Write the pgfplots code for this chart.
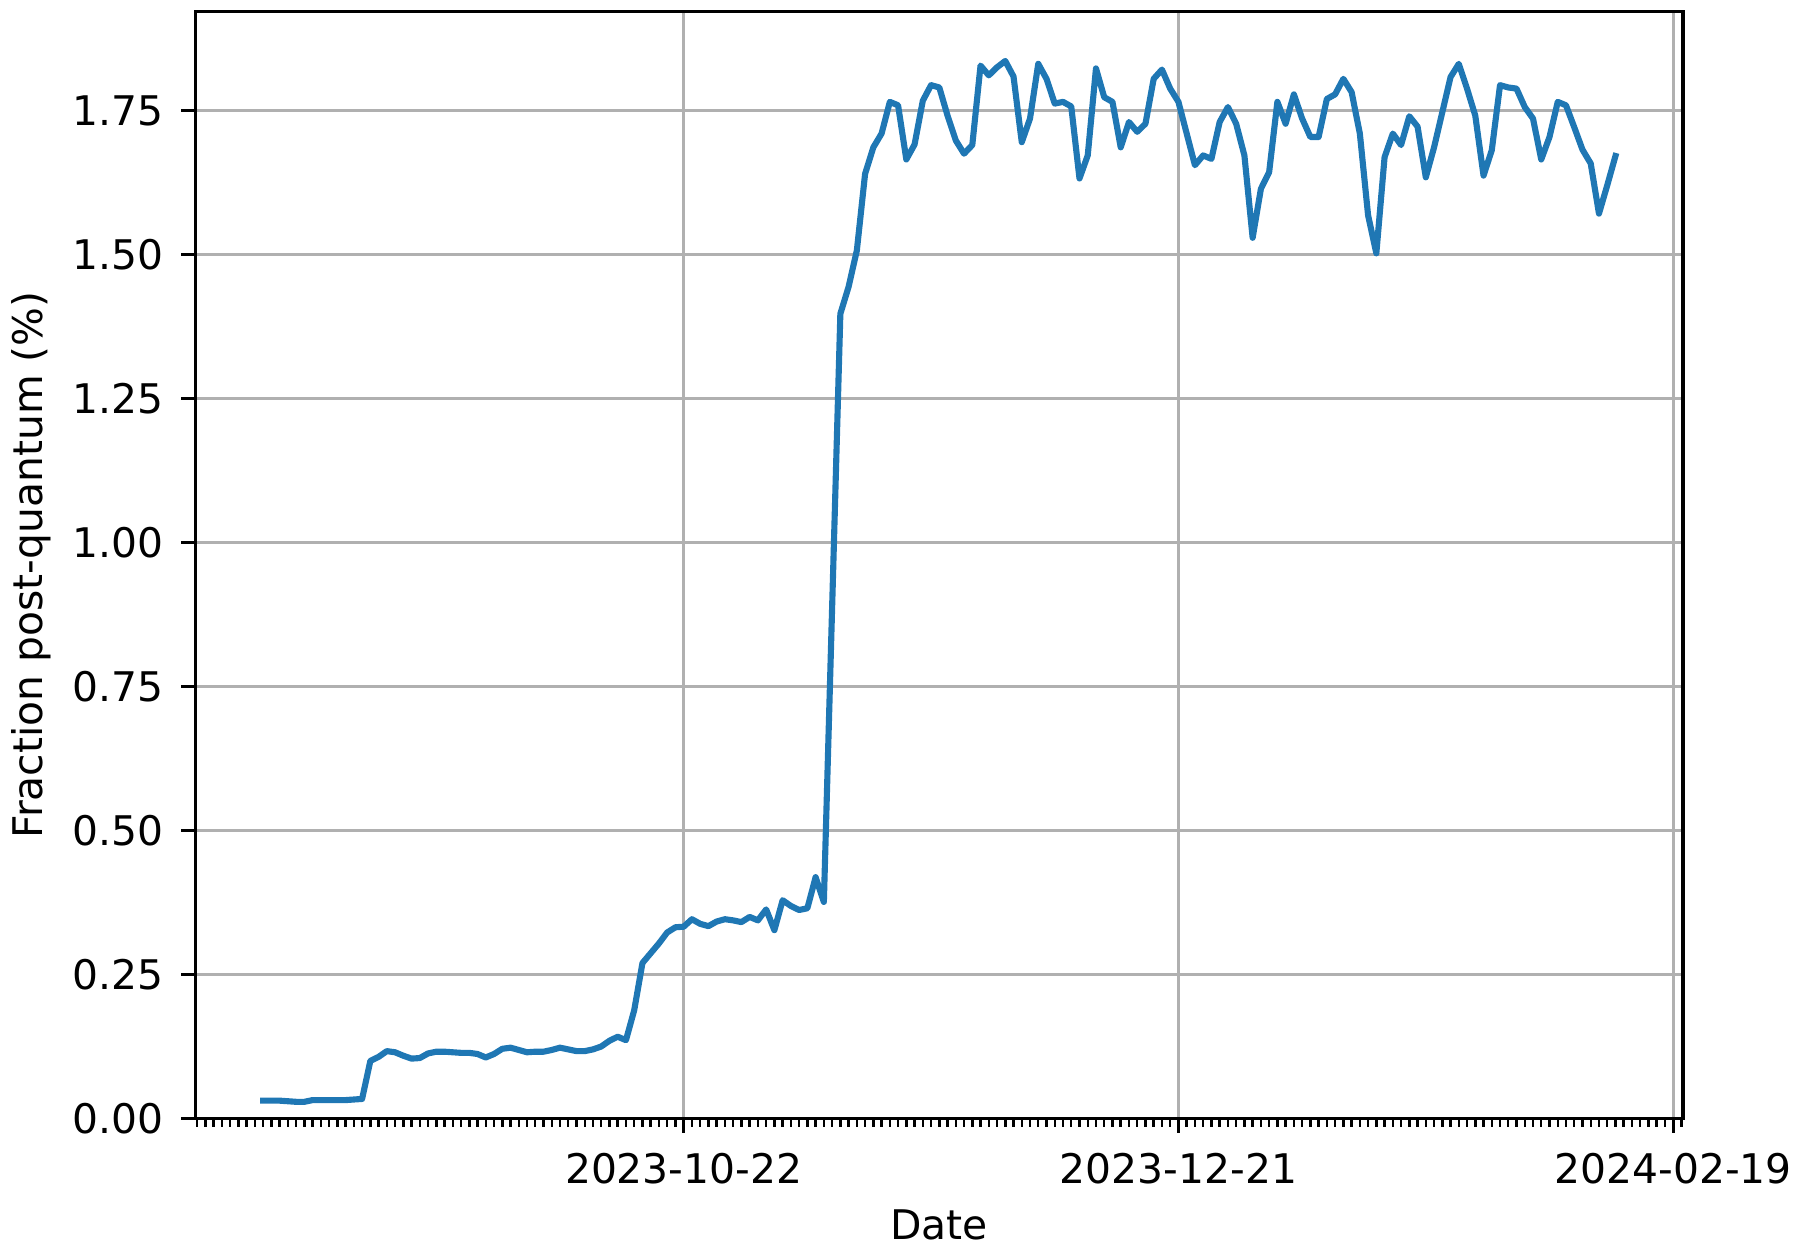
\documentclass[border=0pt]{standalone}
\usepackage{fontspec}
\setmainfont{DejaVu Sans}
\usepackage{pgfplots}
\pgfplotsset{compat=1.18}
\definecolor{mplblue}{HTML}{1F77B4}
\definecolor{gridgray}{HTML}{B0B0B0}
\begin{document}
\begin{tikzpicture}
\begin{axis}[
  name=ax,
  scale only axis,
  width=364.4pt, height=271.2pt,
  xmin=-59.2, xmax=121.2, ymin=0, ymax=1.922,
  xtick={0,60,120},
  xticklabels={2023-10-22,2023-12-21,2024-02-19},
  minor xtick={-59,-58,...,121},
  ytick={0,0.25,0.5,0.75,1,1.25,1.5,1.75},
  yticklabel style={/pgf/number format/.cd, fixed, fixed zerofill, precision=2},
  /pgf/number format/assume math mode=true,
  tick align=outside,
  tick pos=left,
  major tick length=3.5pt, minor tick length=2pt,
  major tick style={black, line width=0.8pt},
  minor tick style={black, line width=0.6pt},
  grid=major,
  major grid style={gridgray, line width=0.8pt},
  axis line style={black, line width=0.8pt},
  tick label style={font=\fontsize{10}{12}\selectfont},
  xticklabel shift=1.4pt,
  yticklabel shift=0.9pt,
  xlabel={Date},
  ylabel={Fraction post-quantum (\%)},
  label style={font=\fontsize{10}{12}\selectfont},
  xlabel style={at={(axis description cs:0.5,-0.1095)}, anchor=base},
  ylabel style={at={(axis description cs:-0.1032,0.5)}, anchor=base},
]
\addplot[mplblue, line width=1.5pt, line join=round, line cap=rect, unbounded coords=jump] table[x=d, y=v] {
d v
-51 0.031
-50 0.031
-49 0.031
-48 0.030
-47 0.029
-46 0.029
-45 0.032
-44 0.032
-43 0.032
-42 0.032
-41 0.032
-40 0.033
-39 0.034
-38 0.100
-37 0.107
-36 0.117
-35 0.115
-34 0.109
-33 0.104
-32 0.105
-31 0.113
-30 0.116
-29 0.116
-28 0.115
-27 0.114
-26 0.114
-25 0.112
-24 0.106
-23 0.112
-22 0.121
-21 0.123
-20 0.119
-19 0.115
-18 0.116
-17 0.116
-16 0.119
-15 0.123
-14 0.120
-13 0.117
-12 0.117
-11 0.120
-10 0.125
-9 0.135
-8 0.142
-7 0.136
-6 0.188
-5 0.270
-4 0.287
-3 0.304
-2 0.323
-1 0.332
0 0.333
1 0.346
2 0.338
3 0.334
4 0.342
5 0.346
6 0.344
7 0.341
8 0.350
9 0.344
10 0.363
11 0.327
12 0.379
13 0.369
14 0.362
15 0.365
16 0.419
17 0.376
19 1.397
20 1.444
21 1.507
22 1.640
23 1.686
24 1.710
25 1.765
26 1.759
27 1.665
28 1.691
29 1.767
30 1.794
31 1.790
32 1.741
33 1.698
34 1.675
35 1.690
36 1.828
37 1.811
38 1.825
39 1.836
40 1.809
41 1.695
42 1.736
43 1.831
44 1.805
45 1.762
46 1.765
47 1.757
48 1.632
49 1.672
50 1.823
51 1.773
52 1.765
53 1.686
54 1.730
55 1.713
56 1.727
57 1.805
58 1.821
59 1.788
60 1.765
61 1.710
62 1.655
63 1.672
64 1.666
65 1.730
66 1.756
67 1.727
68 1.672
69 1.529
70 1.614
71 1.643
72 1.765
73 1.727
74 1.778
75 1.736
76 1.704
77 1.704
78 1.770
79 1.778
80 1.805
81 1.782
82 1.710
83 1.568
84 1.502
85 1.669
86 1.710
87 1.690
88 1.740
89 1.722
90 1.634
91 1.686
92 1.747
93 1.808
94 1.831
95 1.788
96 1.741
97 1.637
98 1.681
99 1.794
100 1.790
101 1.788
102 1.756
103 1.736
104 1.665
105 1.704
106 1.765
107 1.759
108 1.721
109 1.682
110 1.658
111 1.571
112 1.620
113 1.671
};
\end{axis}
\pgfresetboundingbox
\path ([shift={(-47.9pt,-31.2pt)}]ax.south west) rectangle ([shift={(28.4pt,2.8pt)}]ax.north east);
\end{tikzpicture}
\end{document}
